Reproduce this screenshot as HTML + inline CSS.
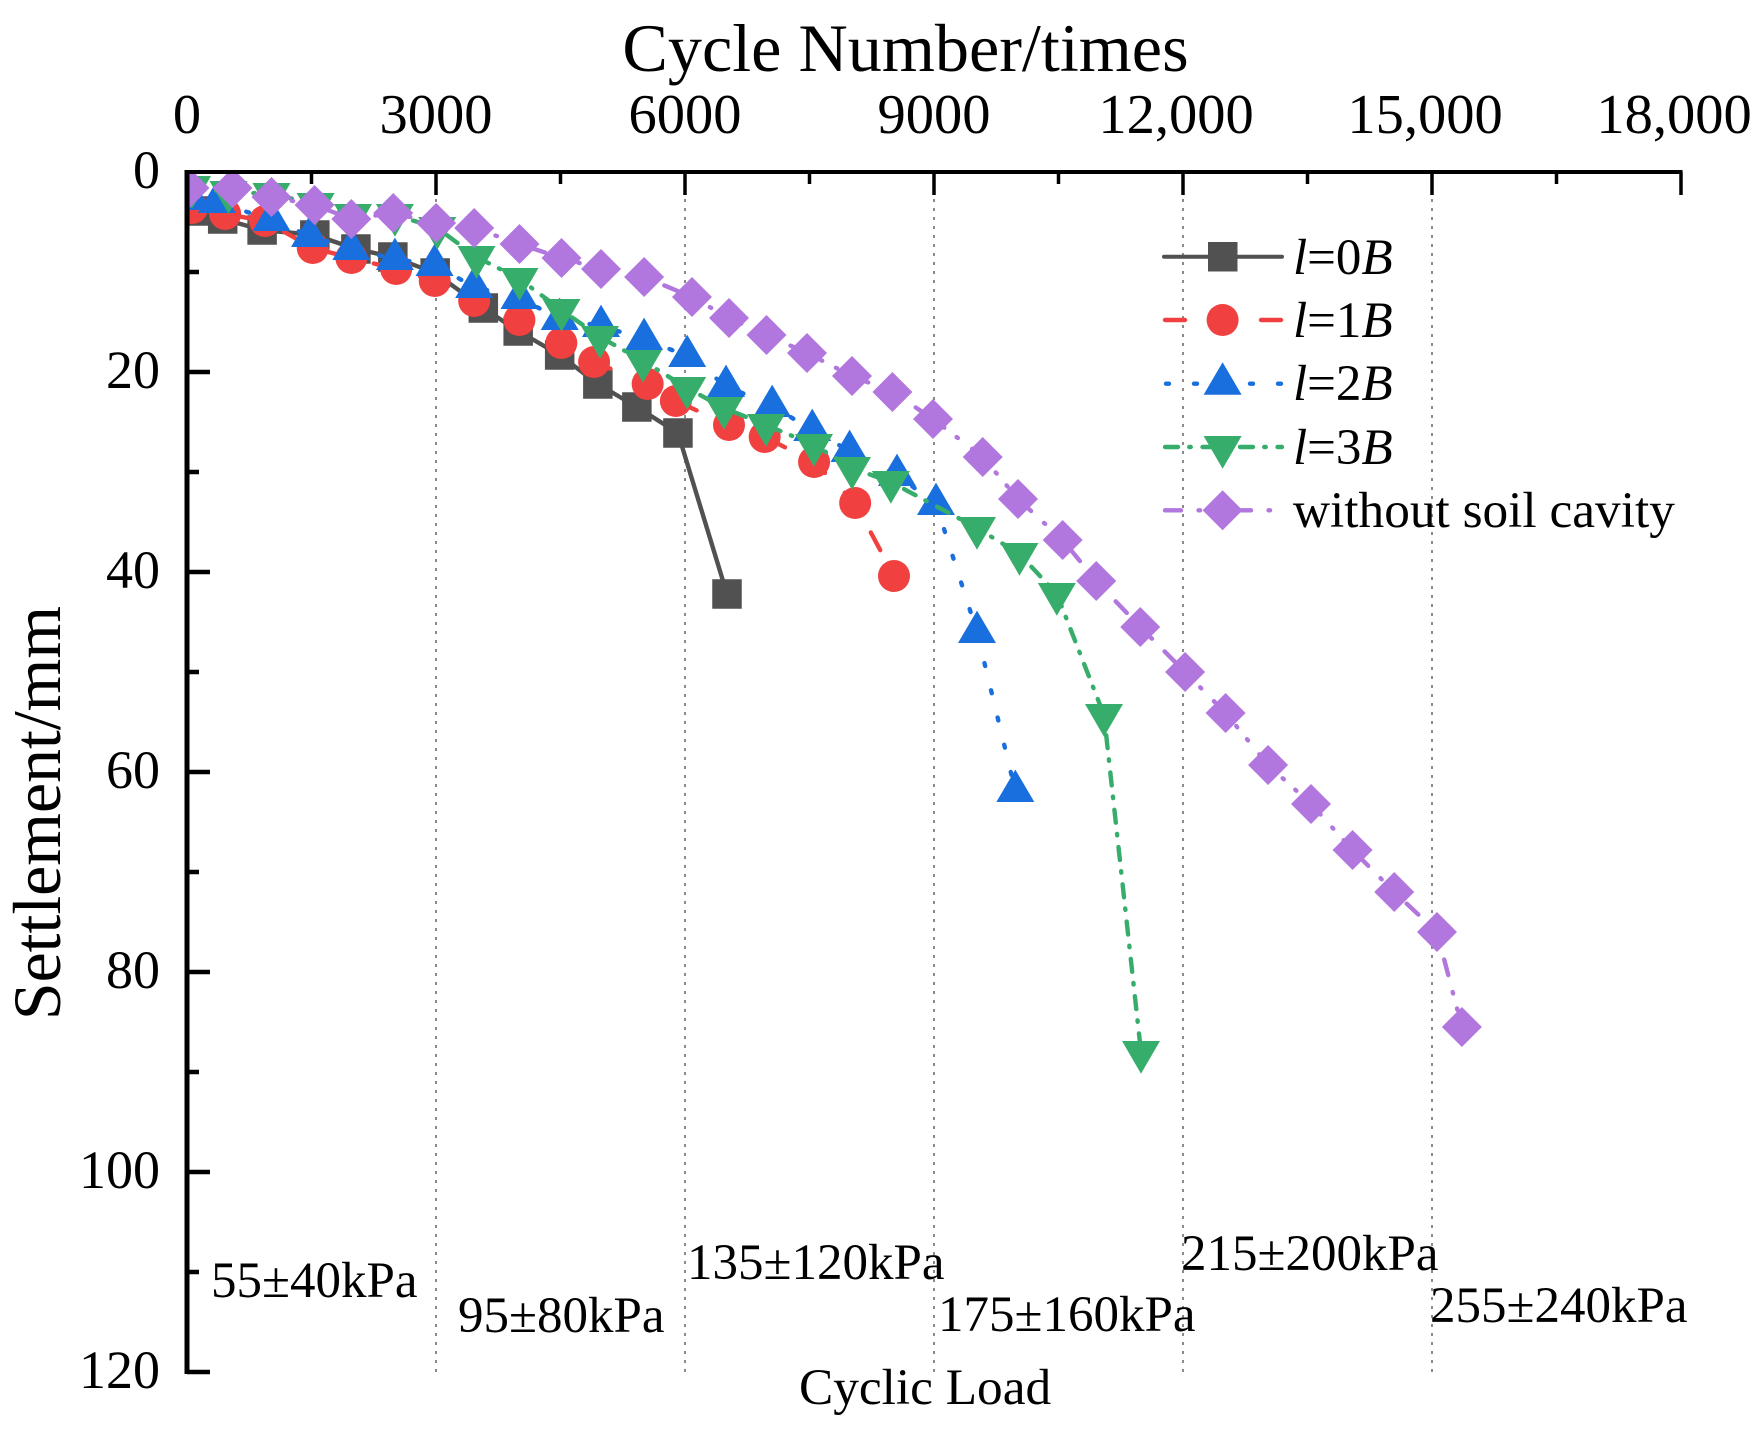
<!DOCTYPE html>
<html lang="en">
<head>
<meta charset="utf-8">
<title>Settlement vs Cycle Number</title>
<style>
html,body{margin:0;padding:0;background:#fff;}
svg{display:block;}
text{font-family:"Liberation Serif",serif;fill:#000;}
</style>
</head>
<body>
<svg id="chart" xmlns="http://www.w3.org/2000/svg" width="1763" height="1439" viewBox="0 0 1763 1439">
  <defs>
    <clipPath id="plot-clip"><rect x="187" y="172" width="1494" height="1200"/></clipPath>
  </defs>
  <rect x="0" y="0" width="1763" height="1439" fill="#ffffff"/>
  <g id="grid"></g>
  <g id="series" clip-path="url(#plot-clip)"></g>
  <g id="axes"></g>

  <text x="905.5" y="71" font-size="68.2" text-anchor="middle">Cycle Number/times</text>
  <text transform="translate(60,813) rotate(-90)" font-size="67.8" text-anchor="middle">Settlement/mm</text>

  <g font-size="51">
    <text x="211" y="1297">55±40kPa</text>
    <text x="458" y="1332">95±80kPa</text>
    <text x="687" y="1279">135±120kPa</text>
    <text x="938" y="1331">175±160kPa</text>
    <text x="1181" y="1270">215±200kPa</text>
    <text x="1430" y="1322">255±240kPa</text>
    <text x="799" y="1404" font-size="51.3">Cyclic Load</text>
  </g>

  <g>
    <g>
      <line x1="1164" y1="256.7" x2="1282" y2="256.7" stroke="#515151" stroke-width="4" stroke-linecap="round"/>
      <rect x="1208" y="242" width="29.5" height="29.5" fill="#515151"/>
      <text x="1293" y="274" font-size="51"><tspan font-style="italic">l</tspan>=0<tspan font-style="italic">B</tspan></text>
    </g>
    <g>
      <line x1="1165" y1="320" x2="1281" y2="320" stroke="#F14040" stroke-width="4.4" stroke-linecap="round" stroke-dasharray="20 28"/>
      <circle cx="1222.6" cy="320" r="16" fill="#F14040"/>
      <text x="1293" y="337" font-size="51"><tspan font-style="italic">l</tspan>=1<tspan font-style="italic">B</tspan></text>
    </g>
    <g>
      <line x1="1166" y1="383.7" x2="1282" y2="383.7" stroke="#1A6FDF" stroke-width="4.4" stroke-linecap="round" stroke-dasharray="3 25"/>
      <polygon points="1222.6,362.3 1241.6,394.7 1203.6,394.7" fill="#1A6FDF"/>
      <text x="1293" y="400" font-size="51"><tspan font-style="italic">l</tspan>=2<tspan font-style="italic">B</tspan></text>
    </g>
    <g>
      <line x1="1165" y1="447" x2="1282" y2="447" stroke="#37AD6B" stroke-width="4.4" stroke-linecap="round" stroke-dasharray="13 11.25 1.5 11.75"/>
      <polygon points="1203.6,436 1241.6,436 1222.6,468.7" fill="#37AD6B"/>
      <text x="1293" y="464" font-size="51"><tspan font-style="italic">l</tspan>=3<tspan font-style="italic">B</tspan></text>
    </g>
    <g>
      <line x1="1165" y1="510.3" x2="1275" y2="510.3" stroke="#B177DE" stroke-width="4.4" stroke-linecap="round" stroke-dasharray="16 17.55 1.5 15.5 1.5 17.95"/>
      <polygon points="1222.6,490.3 1242.6,510.3 1222.6,530.3 1202.6,510.3" fill="#B177DE"/>
      <text x="1293" y="527" font-size="51.3">without soil cavity</text>
    </g>
  </g>
</svg>

<script>
// ---- chart data ----
var xTickValues = [0, 3000, 6000, 9000, 12000, 15000, 18000];
var xTickLabels = ["0", "3000", "6000", "9000", "12,000", "15,000", "18,000"];
var xMinorTicks = [1500, 4500, 7500, 10500, 13500, 16500];
var yTickValues = [0, 20, 40, 60, 80, 100, 120];
var yTickLabels = ["0", "20", "40", "60", "80", "100", "120"];
var yMinorTicks = [10, 30, 50, 70, 90, 110];
var dividerValues = [3000, 6000, 9000, 12000, 15000];

var cyclesL0 = [130, 430, 905, 1540, 2035, 2480, 2990, 3570, 3990, 4490, 4950, 5420, 5915, 6506];
var settleL0 = [3.9, 4.7, 5.8, 6.3, 7.7, 8.5, 10.1, 13.6, 15.9, 18.3, 21.2, 23.5, 26.1, 42.2];

var cyclesL1 = [60, 460, 940, 1515, 1980, 2520, 2985, 3460, 4005, 4510, 4905, 5550, 5890, 6530, 6960, 7555, 8050, 8518];
var settleL1 = [3.6, 4.2, 4.9, 7.6, 8.6, 9.7, 10.9, 12.9, 14.8, 17.1, 19.0, 21.2, 22.9, 25.3, 26.5, 29.0, 33.1, 40.4];

var cyclesL2 = [60, 360, 1018, 1482, 1980, 2505, 2983, 3460, 4006, 4490, 4988, 5507, 6026, 6494, 7050, 7533, 7983, 8554, 9024, 9518, 9980];
var settleL2 = [2.7, 3.0, 4.8, 6.4, 7.7, 8.7, 9.3, 11.5, 12.6, 14.7, 15.4, 16.7, 18.4, 21.4, 23.4, 25.8, 27.9, 30.3, 33.2, 46.0, 61.9];

var cyclesL3 = [60, 500, 1018, 1550, 2000, 2505, 3015, 3488, 4006, 4512, 4976, 5494, 6026, 6470, 6976, 7554, 8012, 8480, 9518, 10030, 10480, 11048, 11494];
var settleL3 = [1.5, 2.0, 2.2, 3.2, 4.3, 4.3, 5.6, 8.5, 10.7, 13.8, 16.5, 18.9, 21.6, 23.6, 25.3, 27.3, 29.6, 31.0, 35.6, 38.2, 42.2, 54.3, 88.0];

var cyclesNC = [30, 548, 1018, 1537, 1980, 2485, 3002, 3460, 4006, 4512, 4988, 5507, 6084, 6530, 6982, 7470, 8012, 8499, 8988, 9587, 10012, 10550, 10955, 11485, 12025, 12513, 13025, 13542, 14043, 14545, 15060, 15360];
var settleNC = [1.6, 1.6, 2.5, 3.3, 4.7, 4.1, 5.1, 5.6, 7.2, 8.6, 9.7, 10.5, 12.5, 14.6, 16.3, 18.1, 20.4, 22.0, 24.7, 28.5, 32.7, 36.8, 40.9, 45.5, 50.0, 54.1, 59.3, 63.2, 67.8, 72.0, 76.0, 85.5];

// ---- axis functions ----
var X0 = 187, X1 = 1681, XMAX = 18000;
var Y0 = 172, Y1 = 1372, YMAX = 120;
function xPos(v) { return X0 + (X1 - X0) * v / XMAX; }
function yPos(v) { return Y0 + (Y1 - Y0) * v / YMAX; }

var NS = "http://www.w3.org/2000/svg";
function make(tag, parent, attrs) {
  var el = document.createElementNS(NS, tag);
  for (var k in attrs) { el.setAttribute(k, attrs[k]); }
  parent.appendChild(el);
  return el;
}

var grid = document.getElementById("grid");
var axes = document.getElementById("axes");
var seriesRoot = document.getElementById("series");

// load stage dividers
dividerValues.forEach(function (v) {
  var el = make("line", grid, { x1: xPos(v), x2: xPos(v), y1: Y0, y2: Y1, stroke: "#8a8a8a", "stroke-width": 2, "stroke-dasharray": "3 6" });
  
  
});

// series
function drawMarker(g, shape, color, cx, cy) {
  var el;
  if (shape === "square") {
    el = make("rect", g, { x: cx - 14.75, y: cy - 14.75, width: 29.5, height: 29.5, fill: color });
  } else if (shape === "circle") {
    el = make("circle", g, { cx: cx, cy: cy, r: 16, fill: color });
  } else if (shape === "up") {
    el = make("polygon", g, { points: cx + "," + (cy - 21.4) + " " + (cx + 19) + "," + (cy + 11) + " " + (cx - 19) + "," + (cy + 11), fill: color });
  } else if (shape === "down") {
    el = make("polygon", g, { points: (cx - 19) + "," + (cy - 11) + " " + (cx + 19) + "," + (cy - 11) + " " + cx + "," + (cy + 21.7), fill: color });
  } else {
    el = make("polygon", g, { points: cx + "," + (cy - 20) + " " + (cx + 20) + "," + cy + " " + cx + "," + (cy + 20) + " " + (cx - 20) + "," + cy, fill: color });
  }
  
  
}

function drawSeries(xs, ys, color, dash, shape, label) {
  var g = make("g", seriesRoot, {});
  
  
  var pts = xs.map(function (x, i) { return xPos(x).toFixed(2) + "," + yPos(ys[i]).toFixed(2); }).join(" ");
  var attrs = { points: pts, fill: "none", stroke: color, "stroke-width": 4.4, "stroke-linecap": "round", "stroke-linejoin": "round" };
  if (dash) { attrs["stroke-dasharray"] = dash; }
  var line = make("polyline", g, attrs);
  
  
  xs.forEach(function (x, i) { drawMarker(g, shape, color, xPos(x), yPos(ys[i])); });
}

drawSeries(cyclesL0, settleL0, "#515151", null, "square", "l0b");
drawSeries(cyclesL1, settleL1, "#F14040", "20 28", "circle", "l1b");
drawSeries(cyclesL2, settleL2, "#1A6FDF", "3 25", "up", "l2b");
drawSeries(cyclesL3, settleL3, "#37AD6B", "13 11.25 1.5 11.75", "down", "l3b");
drawSeries(cyclesNC, settleNC, "#B177DE", "16 17.55 1.5 15.5 1.5 17.95", "diamond", "no-cavity");

// axes
var topAxis = make("line", axes, { x1: X0 - 2.5, x2: X1 + 1.5, y1: Y0, y2: Y0, stroke: "#000", "stroke-width": 4 });


var leftAxis = make("line", axes, { x1: X0, x2: X0, y1: Y0 - 2, y2: Y1 + 2, stroke: "#000", "stroke-width": 5 });



xTickValues.forEach(function (v, i) {
  if (v > 0) {
    var t = make("line", axes, { x1: xPos(v), x2: xPos(v), y1: Y0, y2: Y0 + 23, stroke: "#000", "stroke-width": 3.5 });
    
    
  }
  var label = xTickLabels[i];
  var shift = label.indexOf(",") >= 0 ? -7 : 0;
  var txt = make("text", axes, { x: xPos(v) + shift, y: 133, "font-size": 56.5, "text-anchor": "middle" });
  txt.textContent = label;
  
  
});
xMinorTicks.forEach(function (v) {
  var t = make("line", axes, { x1: xPos(v), x2: xPos(v), y1: Y0, y2: Y0 + 12, stroke: "#000", "stroke-width": 3.5 });
  
  
});
yTickValues.forEach(function (v, i) {
  if (v > 0) {
    var t = make("line", axes, { x1: X0, x2: X0 + 23, y1: yPos(v), y2: yPos(v), stroke: "#000", "stroke-width": 4.5 });
    
    
  }
  var txt = make("text", axes, { x: 160, y: yPos(v) + 16, "font-size": 54, "text-anchor": "end" });
  txt.textContent = yTickLabels[i];
  
  
});
yMinorTicks.forEach(function (v) {
  var t = make("line", axes, { x1: X0, x2: X0 + 12, y1: yPos(v), y2: yPos(v), stroke: "#000", "stroke-width": 4.5 });
  
  
});
</script>
</body>
</html>
